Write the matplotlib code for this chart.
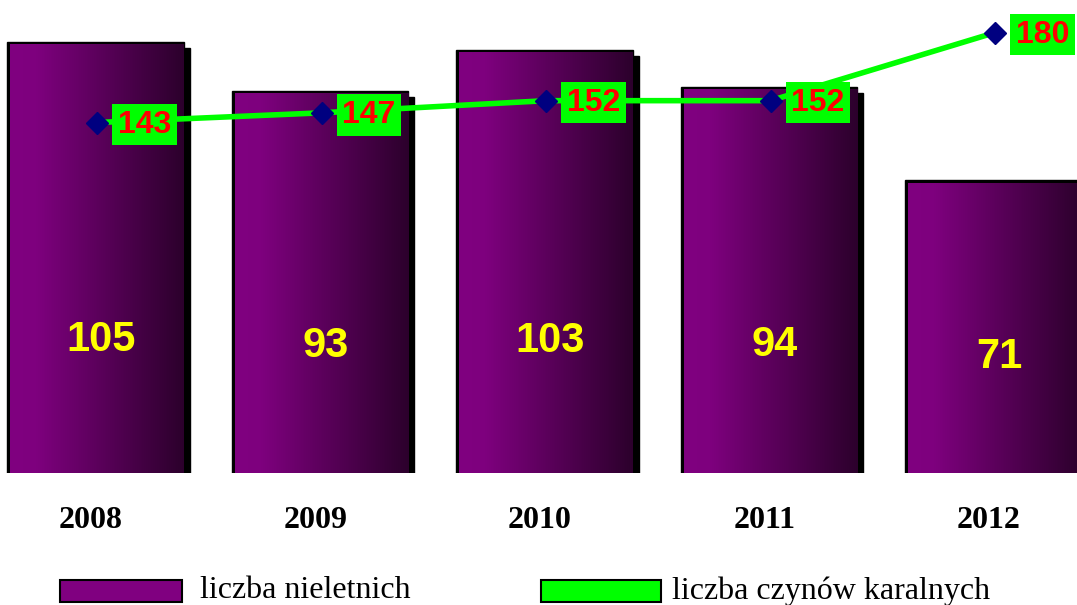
import matplotlib.pyplot as plt
import numpy as np
from matplotlib.colors import LinearSegmentedColormap
from matplotlib.patches import Rectangle

years = ['2008', '2009', '2010', '2011', '2012']
juveniles = [105, 93, 103, 94, 71]
offences = [143, 147, 152, 152, 180]

fig = plt.figure(figsize=(10.77, 6.05), dpi=100)
ax = fig.add_axes([0, 0.218, 1, 0.782])
ax2 = ax.twinx()

x = np.arange(len(years))
w = 0.775
px_x = 1 / 224.5   # data units per pixel
px_y = 1 / 4.08

grad = LinearSegmentedColormap.from_list('purp', [(0, '#800080'), (0.15, '#7e007e'), (1, '#2c002c')])
ramp = np.linspace(0, 1, 256).reshape(1, -1)

for xi, v in zip(x, juveniles):
    left = xi - w / 2
    # shadow
    ax.add_patch(Rectangle((left + 6 * px_x, 0), w, v - 3 * px_y, color='black', zorder=1))
    # dark frame on left/top
    ax.add_patch(Rectangle((left - 3 * px_x, 0), w + 3 * px_x, v + 3 * px_y, color='black', zorder=1.5))
    ax.imshow(ramp, cmap=grad, aspect='auto', extent=(left, left + w, 0, v), zorder=2)
    ax.text(xi + 4 * px_x, 20 + v * 0.12, str(v), ha='center', va='center', color='#ffff00',
            fontsize=30, fontweight='bold', family='Liberation Sans', zorder=3)

ax.set_xlim(-97 * px_x, (1077 - 97) * px_x)
ax.set_ylim(0, 473 * px_y)
ax.set_xticks([])
ax.set_yticks([])
for xi, yr in zip(x, years):
    ax.text(xi - 6 * px_x, -47 * px_y, yr, ha='center', va='center', fontsize=23,
            fontweight='bold', family='Liberation Serif')
for s in ax.spines.values():
    s.set_visible(False)

ax2.plot(x, offences, color='#00ff00', lw=4, marker='D', markersize=11,
         markerfacecolor='#000080', markeredgecolor='#000080', zorder=3)
for xi, v in zip(x, offences):
    ax2.annotate(str(v), (xi, v), xytext=(15, -1.5), textcoords='offset points',
                 ha='left', va='center', color='red', fontsize=23, fontweight='bold',
                 family='Liberation Sans', zorder=4,
                 bbox=dict(boxstyle='square,pad=0.18', facecolor='#00ff00', edgecolor='none'))
ax2.set_ylim(-3 / 2.43, 470 / 2.43)
ax2.set_yticks([])
for s in ax2.spines.values():
    s.set_visible(False)

# legend
fig.patches.append(Rectangle((60 / 1077, 3 / 605), 122 / 1077, 22 / 605, transform=fig.transFigure,
                             facecolor='#800080', edgecolor='black', lw=1.5))
fig.text(200 / 1077, 14 / 605, 'liczba nieletnich', fontsize=23, family='Liberation Serif', va='center')
fig.patches.append(Rectangle((541 / 1077, 3 / 605), 120 / 1077, 22 / 605, transform=fig.transFigure,
                             facecolor='#00ff00', edgecolor='black', lw=1.5))
fig.text(672 / 1077, 14 / 605, 'liczba czynów karalnych', fontsize=23, family='Liberation Serif', va='center')

fig.savefig('out.png', dpi=100)
